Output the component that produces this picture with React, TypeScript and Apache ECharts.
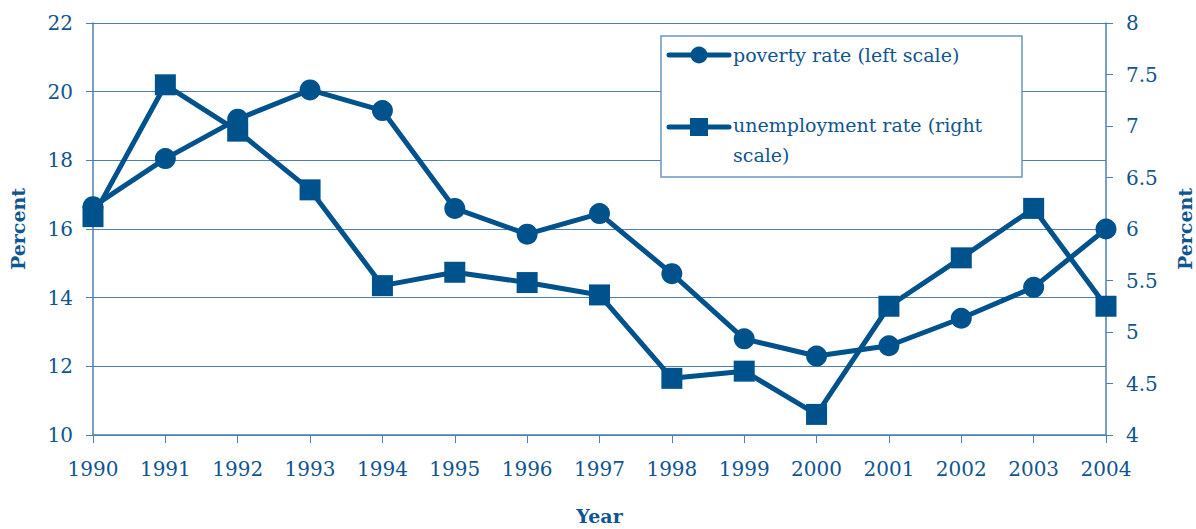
import React, { useEffect, useRef } from "react";
import * as echarts from "echarts";

const years = ["1990","1991","1992","1993","1994","1995","1996","1997","1998","1999","2000","2001","2002","2003","2004"];
const povertyRate = [16.65, 18.05, 19.2, 20.05, 19.45, 16.6, 15.85, 16.45, 14.7, 12.8, 12.3, 12.6, 13.4, 14.3, 16.0];
const unemploymentRate = [6.12, 7.4, 6.95, 6.38, 5.45, 5.58, 5.48, 5.36, 4.55, 4.62, 4.2, 5.25, 5.72, 6.2, 5.25];
const legendLabels = ["poverty rate (left scale)", "unemployment rate (right\nscale)"];

const BLUE = "#00528c";
const TEXT = "#0f5590";
const GRID = "#4f7fb0";
const FONT = "DejaVu Serif";

export default function App() {
  const ref = useRef<HTMLDivElement>(null);
  useEffect(() => {
    document.body.style.margin = "0";
    const chart = echarts.init(ref.current!, null, { renderer: "svg" });
    chart.setOption({
      animation: false,
      backgroundColor: "#ffffff",
      textStyle: { fontFamily: FONT },
      grid: { left: 93, right: 90, top: 23, bottom: 94, containLabel: false, outerBoundsMode: "none" },
      xAxis: {
        type: "category",
        data: years,
        boundaryGap: false,
        name: "Year",
        nameLocation: "middle",
        nameGap: 71,
        nameTextStyle: { color: TEXT, fontSize: 19, fontWeight: "bold", fontFamily: FONT },
        axisLine: { lineStyle: { color: GRID, width: 1.5 } },
        axisTick: { show: true, length: 8, lineStyle: { color: GRID }, alignWithLabel: true },
        axisLabel: { color: TEXT, fontSize: 20, margin: 24, fontFamily: FONT, interval: 0 },
        splitLine: { show: false },
      },
      yAxis: [
        {
          type: "value",
          min: 10,
          max: 22,
          interval: 2,
          position: "left",
          name: "Percent",
          nameLocation: "middle",
          nameGap: 66,
          nameTextStyle: { color: TEXT, fontSize: 19, fontWeight: "bold", fontFamily: FONT },
          axisLine: { show: true, lineStyle: { color: GRID, width: 1.5 } },
          axisTick: { show: true, length: 7, lineStyle: { color: GRID } },
          axisLabel: { color: TEXT, fontSize: 20, margin: 20, fontFamily: FONT },
          splitLine: { show: true, lineStyle: { color: GRID, width: 1 } },
        },
        {
          type: "value",
          min: 4,
          max: 8,
          interval: 0.5,
          position: "right",
          name: "Percent",
          nameLocation: "middle",
          nameGap: 69,
          nameRotate: 90,
          nameTextStyle: { color: TEXT, fontSize: 19, fontWeight: "bold", fontFamily: FONT },
          axisLine: { show: true, lineStyle: { color: GRID, width: 1.5 } },
          axisTick: { show: true, length: 7, lineStyle: { color: GRID } },
          axisLabel: { color: TEXT, fontSize: 20, margin: 20, fontFamily: FONT },
          splitLine: { show: false },
        },
      ],
      series: [
        {
          name: "poverty rate (left scale)",
          type: "line",
          yAxisIndex: 0,
          data: povertyRate,
          symbol: "circle",
          symbolSize: 21,
          lineStyle: { color: BLUE, width: 5 },
          itemStyle: { color: BLUE },
          z: 3,
        },
        {
          name: "unemployment rate (right scale)",
          type: "line",
          yAxisIndex: 1,
          data: unemploymentRate,
          symbol: "rect",
          symbolSize: 21,
          lineStyle: { color: BLUE, width: 5 },
          itemStyle: { color: BLUE },
          z: 3,
        },
      ],
      graphic: [
        {
          type: "rect",
          shape: { x: 661, y: 36, width: 361, height: 141 },
          style: { fill: "#ffffff", stroke: "#6b95bf", lineWidth: 1.5 },
          z: 10,
        },
        {
          type: "line",
          shape: { x1: 669, y1: 55, x2: 729, y2: 55 },
          style: { stroke: BLUE, lineWidth: 5, lineCap: "round" },
          z: 11,
        },
        {
          type: "circle",
          shape: { cx: 699, cy: 55, r: 8.5 },
          style: { fill: BLUE },
          z: 12,
        },
        {
          type: "line",
          shape: { x1: 669, y1: 127, x2: 729, y2: 127 },
          style: { stroke: BLUE, lineWidth: 5, lineCap: "round" },
          z: 11,
        },
        {
          type: "rect",
          shape: { x: 690, y: 118, width: 18, height: 18 },
          style: { fill: BLUE },
          z: 12,
        },
        {
          type: "text",
          x: 733,
          y: 55,
          style: {
            text: legendLabels[0],
            fill: TEXT,
            font: `19px "${FONT}"`,
            verticalAlign: "middle",
          },
          z: 12,
        },
        {
          type: "text",
          x: 733,
          y: 110,
          style: {
            text: legendLabels[1],
            fill: TEXT,
            font: `19px "${FONT}"`,
            lineHeight: 30,
            verticalAlign: "top",
          },
          z: 12,
        },
      ],
    });
    return () => chart.dispose();
  }, []);
  return <div ref={ref} style={{ width: 1196, height: 529 }} />;
}
